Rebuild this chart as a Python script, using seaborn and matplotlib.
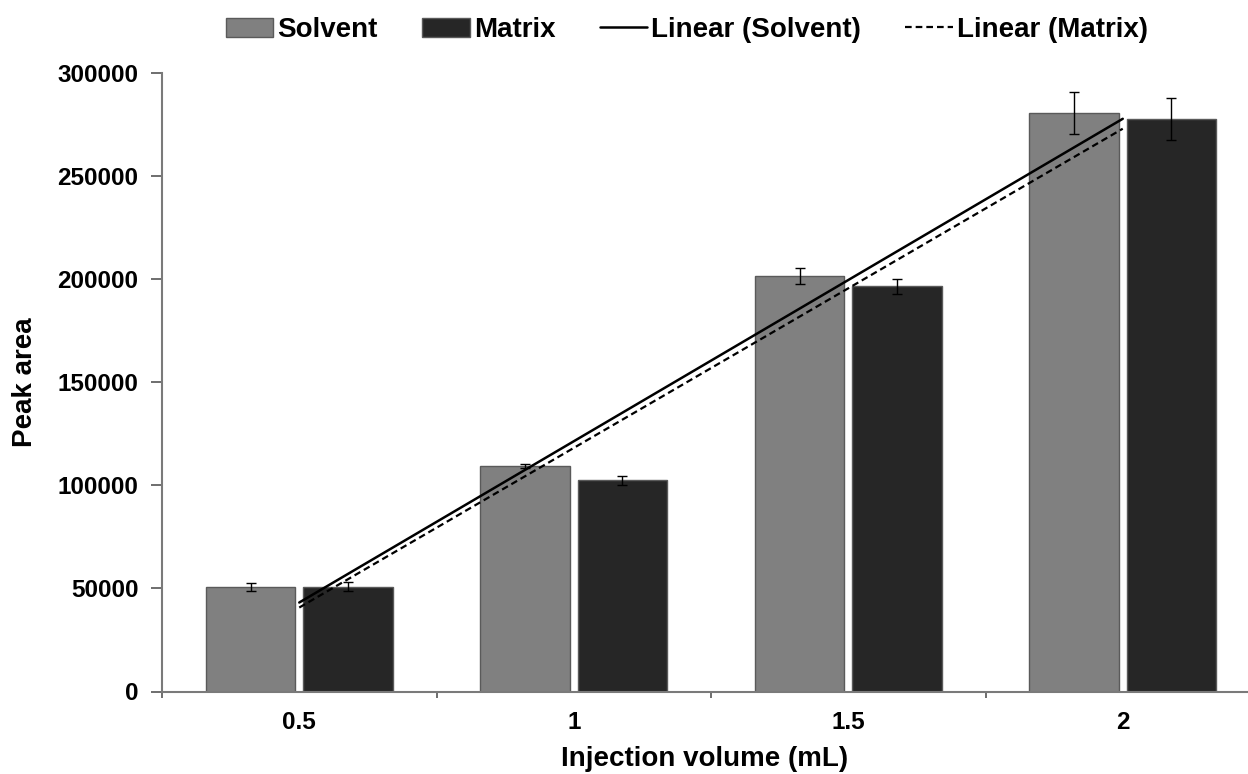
import numpy as np
import pandas as pd
import matplotlib
matplotlib.use("Agg")
import matplotlib.pyplot as plt
from matplotlib.patches import Patch
from matplotlib.lines import Line2D
from matplotlib.ticker import FixedLocator
import seaborn as sns

# ---- data ----
volumes = ["0.5", "1", "1.5", "2"]
solvent = [50600, 109300, 201400, 280600]
solvent_err = [2000, 1000, 3800, 10400]
matrix = [50900, 102400, 196500, 277600]
matrix_err = [2000, 2200, 3500, 10200]
series_names = ["Solvent", "Matrix"]
yticks = [0, 50000, 100000, 150000, 200000, 250000, 300000]

colors = {"Solvent": "#808080", "Matrix": "#262626"}

df = pd.DataFrame({
    "Volume": volumes * 2,
    "Area": solvent + matrix,
    "Series": ["Solvent"] * len(volumes) + ["Matrix"] * len(volumes),
})

sns.set_theme(style="white")
plt.rcParams["font.family"] = ["Liberation Sans", "DejaVu Sans"]
plt.rcParams["font.weight"] = "bold"
plt.rcParams["text.color"] = "black"
plt.rcParams["axes.labelcolor"] = "black"
plt.rcParams["xtick.color"] = "black"
plt.rcParams["ytick.color"] = "black"

fig = plt.figure(figsize=(12.48, 7.74), dpi=100)
ax = fig.add_axes([162 / 1248, (774 - 691.5) / 774, 1086 / 1248, 618.5 / 774])

sns.barplot(data=df, x="Volume", y="Area", hue="Series", order=volumes,
            hue_order=series_names, palette=colors, errorbar=None,
            width=0.71, gap=0.08, edgecolor="#5a5a5a", linewidth=1.0,
            saturation=1, legend=False, ax=ax)

# error bars at bar centres
errs = {"Solvent": solvent_err, "Matrix": matrix_err}
vals = {"Solvent": solvent, "Matrix": matrix}
for cont, name in zip(ax.containers, series_names):
    xs = [p.get_x() + p.get_width() / 2 for p in cont.patches]
    ax.errorbar(xs, vals[name], yerr=errs[name], fmt="none", ecolor="black",
                elinewidth=1.0, capsize=3.5, capthick=1.0, zorder=4)

# linear trendlines (fitted from the data, plotted at category positions)
pos = np.arange(len(volumes))
fs = np.polyfit(pos + 1, solvent, 1)
fm = np.polyfit(pos + 1, matrix, 1)
ax.plot(pos, np.polyval(fm, pos + 1), color="black", lw=1.6, ls=(0, (3, 1.8)), zorder=5)
ax.plot(pos, np.polyval(fs, pos + 1), color="black", lw=1.8, ls="-", zorder=5)

ax.set_ylim(0, 300000)
ax.set_xlim(-0.5, -0.5 + 1086 / 274.5)
ax.set_yticks(yticks)
ax.set_yticklabels([str(t) for t in yticks])

ax.xaxis.set_minor_locator(FixedLocator([-0.5, 0.5, 1.5, 2.5]))
ax.tick_params(axis="x", which="major", length=0, pad=14, labelsize=17.5, labelcolor="black")
ax.tick_params(axis="x", which="minor", length=4, width=1.2, color="#555555", direction="out", bottom=True)
ax.tick_params(axis="y", which="major", length=8, width=1.2, color="#555555", direction="out",
               left=True, pad=9, labelsize=17.5, labelcolor="black")
for lab in ax.get_xticklabels() + ax.get_yticklabels():
    lab.set_fontweight("bold")

for s in ["top", "right"]:
    ax.spines[s].set_visible(False)
for s in ["left", "bottom"]:
    ax.spines[s].set_color("#7a7a7a")
    ax.spines[s].set_linewidth(1.5)

ax.set_xlabel("Injection volume (mL)", fontsize=20, fontweight="bold", labelpad=9, color="black")
ax.set_ylabel("Peak area", fontsize=20, fontweight="bold", labelpad=14, color="black")

handles = [
    Patch(facecolor=colors["Solvent"], edgecolor="#5a5a5a", linewidth=1.0),
    Patch(facecolor=colors["Matrix"], edgecolor="#5a5a5a", linewidth=1.0),
    Line2D([], [], color="black", lw=1.8, ls="-"),
    Line2D([], [], color="black", lw=1.6, ls=(0, (3, 1.8))),
]
labels = ["Solvent", "Matrix", "Linear (Solvent)", "Linear (Matrix)"]
fig.legend(handles, labels, loc="center", bbox_to_anchor=(687 / 1248, 1 - 30 / 774),
           ncol=4, frameon=False, prop={"size": 20, "weight": "bold"},
           handlelength=1.7, handletextpad=0.15, columnspacing=1.6, handleheight=0.7,
           labelcolor="black")

fig.savefig("out.png", dpi=100)
